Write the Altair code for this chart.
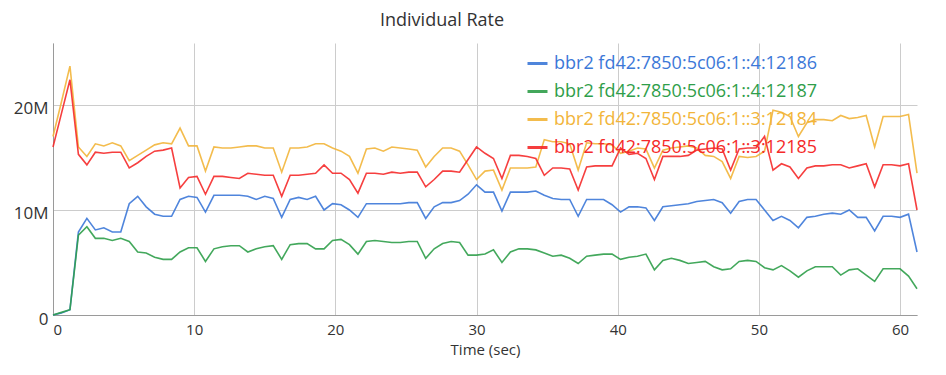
import altair as alt
import pandas as pd

times = [0.0, 0.6, 1.2, 1.8, 2.4, 3.0, 3.6, 4.2, 4.8, 5.4, 6.0, 6.6, 7.2, 7.8, 8.4, 9.0, 9.6,
         10.2, 10.8, 11.4, 12.0, 12.6, 13.2, 13.8, 14.4, 15.0, 15.6, 16.2, 16.8, 17.4, 18.0, 18.6, 19.2, 19.8,
         20.4, 21.0, 21.6, 22.2, 22.8, 23.4, 24.0, 24.6, 25.2, 25.8, 26.4, 27.0, 27.6, 28.2, 28.8, 29.4, 30.0,
         30.6, 31.2, 31.8, 32.4, 33.0, 33.6, 34.2, 34.8, 35.4, 36.0, 36.6, 37.2, 37.8, 38.4, 39.0, 39.6, 40.2,
         40.8, 41.4, 42.0, 42.6, 43.2, 43.8, 44.4, 45.0, 45.6, 46.2, 46.8, 47.4, 48.0, 48.6, 49.2, 49.8, 50.4,
         51.0, 51.6, 52.2, 52.8, 53.4, 54.0, 54.6, 55.2, 55.8, 56.4, 57.0, 57.6, 58.2, 58.8, 59.4, 60.0, 60.6, 61.2]

names = ["bbr2 fd42:7850:5c06:1::4:12186",
         "bbr2 fd42:7850:5c06:1::4:12187",
         "bbr2 fd42:7850:5c06:1::3:12184",
         "bbr2 fd42:7850:5c06:1::3:12185"]
colors = ["#3c78d8", "#2f9e4a", "#f2b53a", "#f52a2a"]

# rates in Mbit/s
blue = [0.0, 0.2, 0.5, 7.9, 9.2, 8.1, 8.3, 7.9, 7.9, 10.6, 11.3, 10.3, 9.6, 9.4, 9.4, 11.0, 11.3,
        11.2, 9.8, 11.4, 11.4, 11.4, 11.4, 11.3, 11.0, 11.3, 11.1, 9.3, 11.0, 11.2, 11.0, 11.3, 10.0, 10.6,
        10.5, 10.0, 9.3, 10.6, 10.6, 10.6, 10.6, 10.6, 10.7, 10.7, 9.2, 10.3, 10.7, 10.7, 10.9, 11.5, 12.4,
        11.7, 11.7, 9.9, 11.7, 11.7, 11.7, 11.8, 11.4, 11.1, 11.0, 11.0, 9.4, 11.0, 11.0, 11.0, 10.5, 9.8,
        10.3, 10.3, 10.2, 9.0, 10.3, 10.4, 10.5, 10.6, 10.8, 10.9, 11.0, 10.7, 9.7, 10.8, 11.0, 11.0, 10.0,
        9.0, 9.4, 9.0, 8.3, 9.3, 9.4, 9.6, 9.7, 9.6, 10.0, 9.3, 9.3, 8.0, 9.4, 9.4, 9.3, 9.6, 6.0]
green = [0.0, 0.25, 0.5, 7.6, 8.4, 7.3, 7.3, 7.1, 7.3, 7.0, 6.0, 5.9, 5.5, 5.3, 5.3, 6.0, 6.4,
         6.4, 5.1, 6.3, 6.5, 6.6, 6.6, 6.0, 6.3, 6.5, 6.6, 5.3, 6.7, 6.8, 6.8, 6.3, 6.3, 7.1,
         7.2, 6.7, 5.8, 7.0, 7.1, 7.0, 6.9, 6.9, 7.0, 7.0, 5.4, 6.3, 6.8, 7.0, 6.9, 5.7, 5.7,
         5.8, 6.2, 5.0, 6.0, 6.3, 6.3, 6.2, 5.9, 5.6, 5.7, 5.4, 4.9, 5.6, 5.7, 5.8, 5.8, 5.3,
         5.5, 5.6, 5.8, 4.3, 5.2, 5.4, 5.2, 4.9, 5.0, 5.1, 4.6, 4.3, 4.4, 5.1, 5.2, 5.1, 4.5,
         4.3, 4.7, 4.2, 3.6, 4.2, 4.6, 4.6, 4.6, 3.8, 4.3, 4.4, 3.8, 3.2, 4.4, 4.4, 4.4, 3.7, 2.5]
yellow = [17.0, 20.3, 23.7, 16.0, 15.1, 16.3, 16.1, 16.4, 16.1, 14.7, 15.2, 15.7, 16.2, 16.4, 16.3, 17.8, 16.1,
          16.1, 13.7, 16.0, 15.9, 15.9, 16.0, 16.1, 16.1, 15.9, 15.9, 13.6, 15.9, 15.9, 16.0, 16.3, 16.3, 15.9,
          15.6, 15.1, 13.5, 15.8, 15.9, 15.6, 16.0, 15.9, 15.8, 15.7, 14.1, 15.1, 15.9, 15.9, 15.6, 14.3, 12.9,
          13.7, 13.8, 11.9, 14.0, 14.0, 14.0, 14.1, 16.7, 16.5, 16.5, 16.3, 13.8, 16.4, 16.3, 16.3, 16.2, 15.4,
          15.6, 15.9, 15.8, 14.0, 15.7, 15.9, 16.0, 16.1, 15.9, 15.2, 15.1, 14.6, 13.0, 15.1, 15.0, 15.1, 15.6,
          19.5, 19.3, 18.9, 17.0, 18.3, 18.6, 18.6, 18.5, 19.0, 18.7, 18.8, 19.0, 16.0, 18.9, 18.9, 18.9, 19.1, 13.5]
red = [16.0, 19.2, 22.4, 15.3, 14.3, 15.5, 15.4, 15.5, 15.5, 14.0, 14.5, 15.1, 15.6, 15.7, 15.9, 12.1, 13.1,
       13.2, 11.5, 13.2, 13.2, 13.1, 13.0, 13.5, 13.4, 13.3, 13.3, 11.3, 13.3, 13.3, 13.4, 13.5, 14.3, 13.5,
       13.5, 12.9, 11.6, 13.5, 13.5, 13.4, 13.6, 13.5, 13.6, 13.6, 12.2, 12.9, 13.7, 13.7, 13.6, 14.8, 16.0,
       15.4, 14.9, 13.0, 15.2, 15.2, 15.1, 14.9, 13.3, 14.0, 14.0, 13.9, 11.9, 14.1, 14.2, 14.2, 14.2, 15.9,
       15.3, 15.4, 14.9, 12.9, 15.1, 15.1, 15.1, 15.2, 15.7, 15.8, 15.9, 15.8, 13.8, 15.8, 15.9, 15.9, 17.0,
       13.8, 14.4, 14.1, 13.0, 14.0, 14.2, 14.2, 14.3, 14.3, 14.0, 14.2, 14.4, 12.2, 14.3, 14.3, 14.2, 14.4, 10.0]

x_ticks = [0, 10, 20, 30, 40, 50, 60]
y_ticks = [0, 10, 20]

rows = []
for k, (name, vals) in enumerate(zip(names, [blue, green, yellow, red])):
    for t, v in zip(times, vals):
        rows.append({"t": t, "rate": v, "flow": name, "k": k})
df = pd.DataFrame(rows)

FONT = "Open Sans"

chart = alt.Chart(df).mark_line(strokeWidth=1.6, opacity=0.9).encode(
    x=alt.X("t:Q",
            scale=alt.Scale(domain=[0, 61.2], nice=False, zero=False),
            axis=alt.Axis(values=x_ticks, title="Time (sec)", ticks=False, labelPadding=7,
                          labelFontSize=15, titleFontSize=15, titleFontWeight="normal",
                          titlePadding=5, labelFont=FONT, titleFont=FONT,
                          labelColor="#333333", titleColor="#333333",
                          domainColor="#9a9a9a", gridColor="#cccccc")),
    y=alt.Y("rate:Q",
            scale=alt.Scale(domain=[0, 25.9], nice=False),
            axis=alt.Axis(values=y_ticks, title=None, ticks=False, labelPadding=5,
                          labelExpr="datum.value == 0 ? '0' : datum.value + 'M'",
                          labelFontSize=17, labelFont=FONT, labelColor="#333333",
                          minExtent=39, maxExtent=39, labelOffset=4,
                          domainColor="#9a9a9a", gridColor="#cccccc")),
    color=alt.Color("flow:N",
                    scale=alt.Scale(domain=names, range=colors),
                    legend=alt.Legend(title=None, orient="none", legendX=473, legendY=9,
                                      symbolType="stroke", symbolStrokeWidth=3, symbolSize=400,
                                      labelFontSize=18, labelFont=FONT, rowPadding=7,
                                      labelLimit=500, labelOffset=5,
                                      labelColor=alt.ExprRef("scale('color', datum.value)"))),
    order=alt.Order("k:Q"),
).properties(
    width=864, height=272,
    padding={"left": 5, "top": 4, "right": 5, "bottom": 5},
    title=alt.Title("Individual Rate", fontSize=18, font=FONT, fontWeight="normal",
                    color="#333333", offset=13, dx=-43, anchor="middle"),
).configure_view(stroke=None)

chart.save("out.html", embed_options={"renderer": "svg", "actions": False})
